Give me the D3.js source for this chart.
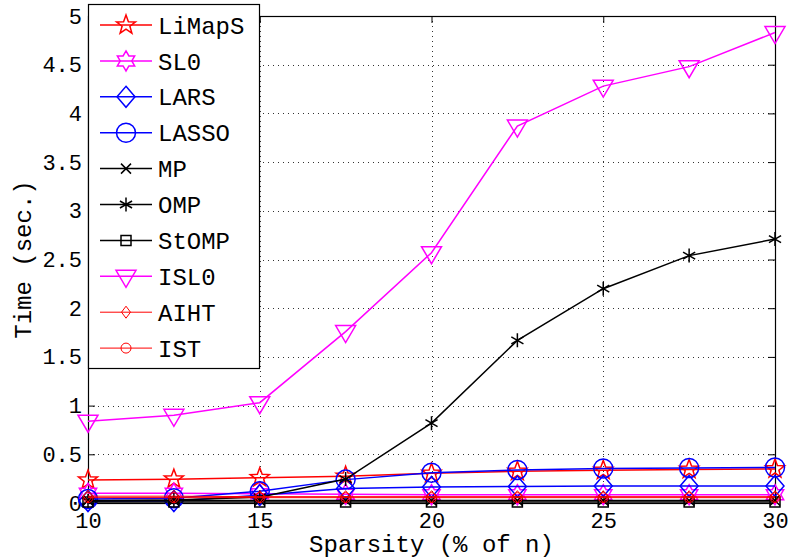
<!DOCTYPE html>
<html>
<head>
<meta charset="utf-8">
<script src="https://cdn.jsdelivr.net/npm/d3@7"></script>
<style>
  html, body { margin: 0; padding: 0; background: #fff; }
  svg { display: block; }
  text { font-family: "Liberation Mono", "DejaVu Sans Mono", monospace; fill: #000; }
</style>
</head>
<body>
<svg id="chart" width="788" height="558"></svg>
<script>
// Sparsity levels (% of n)
const sparsity = [10, 12.5, 15, 17.5, 20, 22.5, 25, 27.5, 30];

// Running time (sec.) of each solver
const limaps = [0.235, 0.245, 0.26, 0.275, 0.305, 0.325, 0.335, 0.345, 0.35];
const sl0    = [0.10, 0.10, 0.095, 0.09, 0.085, 0.085, 0.085, 0.085, 0.085];
const lars   = [0.02, 0.02, 0.08, 0.15, 0.165, 0.17, 0.175, 0.175, 0.175];
const lasso  = [0.04, 0.05, 0.12, 0.24, 0.31, 0.34, 0.355, 0.36, 0.365];
const mp     = [0.025, 0.025, 0.025, 0.025, 0.025, 0.025, 0.025, 0.025, 0.025];
const omp    = [0.02, 0.03, 0.06, 0.246, 0.82, 1.67, 2.2, 2.54, 2.71];
const stomp  = [0.01, 0.01, 0.01, 0.01, 0.01, 0.01, 0.01, 0.01, 0.01];
const isl0   = [0.84, 0.90, 1.03, 1.76, 2.57, 3.87, 4.28, 4.48, 4.83];
const aiht   = [0.07, 0.07, 0.065, 0.065, 0.065, 0.065, 0.065, 0.065, 0.065];
const ist    = [0.055, 0.055, 0.055, 0.055, 0.055, 0.055, 0.055, 0.055, 0.055];

// Axis ticks
const xTicks = [10, 15, 20, 25, 30];
const yTicks = [0, 0.5, 1, 1.5, 2, 2.5, 3, 3.5, 4, 4.5, 5];
const yTickLabels = ["0", "0.5", "1", "1.5", "2", "2.5", "3", "3.5", "4", "4.5", "5"];

// Marker outlines, centred on (0,0)
function starPath(points, rOut, rIn) {
  const pts = [];
  for (let i = 0; i < points * 2; i++) {
    const r = i % 2 === 0 ? rOut : rIn;
    const a = -Math.PI / 2 + i * Math.PI / points;
    pts.push([r * Math.cos(a), r * Math.sin(a)]);
  }
  return "M" + pts.map(p => p.join(",")).join("L") + "Z";
}
const markers = {
  pentagram: () => starPath(5, 10, 4.1),
  hexagram: () => starPath(6, 10, 5.8),
  diamond: () => "M0,-10.5L9,0L0,10.5L-9,0Z",
  circle: () => "M9.5,0A9.5,9.5 0 1,1 -9.5,0A9.5,9.5 0 1,1 9.5,0Z",
  cross: () => "M-5,-5L5,5M-5,5L5,-5",
  asterisk: () => "M0,-7L0,7M-6.06,-3.5L6.06,3.5M-6.06,3.5L6.06,-3.5",
  square: () => "M-5,-5L5,-5L5,5L-5,5Z",
  triangleDown: () => "M-10,-6L10,-6L0,11Z",
  smallDiamond: () => "M0,-6L4.5,0L0,6L-4.5,0Z",
  smallCircle: () => "M5,0A5,5 0 1,1 -5,0A5,5 0 1,1 5,0Z"
};

const series = [
  { name: "LiMapS", values: limaps, color: "#ff0000", marker: "pentagram", width: 1.5 },
  { name: "SL0",    values: sl0,    color: "#ff00ff", marker: "hexagram", width: 1.5 },
  { name: "LARS",   values: lars,   color: "#0000ff", marker: "diamond", width: 1.5 },
  { name: "LASSO",  values: lasso,  color: "#0000ff", marker: "circle", width: 1.5 },
  { name: "MP",     values: mp,     color: "#000000", marker: "cross", width: 1.5 },
  { name: "OMP",    values: omp,    color: "#000000", marker: "asterisk", width: 1.5 },
  { name: "StOMP",  values: stomp,  color: "#000000", marker: "square", width: 1.5 },
  { name: "ISL0",   values: isl0,   color: "#ff00ff", marker: "triangleDown", width: 1.5 },
  { name: "AIHT",   values: aiht,   color: "#ff0000", marker: "smallDiamond", width: 1 },
  { name: "IST",    values: ist,    color: "#ff0000", marker: "smallCircle", width: 1 }
];

const svg = d3.select("#chart");
const plot = { left: 88, right: 775, top: 16, bottom: 503 };

const x = d3.scaleLinear().domain([10, 30]).range([plot.left, plot.right]);
const y = d3.scaleLinear().domain([0, 5]).range([plot.bottom, plot.top]);

// Dotted grid
const grid = svg.append("g").attr("stroke", "#333").attr("stroke-width", 1)
  .attr("stroke-dasharray", "1,4").attr("shape-rendering", "crispEdges");
grid.selectAll("line.gx").data(xTicks.slice(1, -1)).join("line")
  .attr("x1", d => Math.round(x(d)) + 0.5).attr("x2", d => Math.round(x(d)) + 0.5)
  .attr("y1", plot.top).attr("y2", plot.bottom);
grid.selectAll("line.gy").data(yTicks.slice(1, -1)).join("line")
  .attr("x1", plot.left).attr("x2", plot.right)
  .attr("y1", d => Math.round(y(d)) + 0.5).attr("y2", d => Math.round(y(d)) + 0.5);

// Axes: inward ticks on all four sides
const tickLen = 7;
const axisBottom = d3.axisBottom(x).tickValues(xTicks).tickSize(-tickLen).tickFormat(d3.format("d")).tickPadding(9);
const axisTop = d3.axisTop(x).tickValues(xTicks).tickSize(-tickLen).tickFormat("");
const axisLeft = d3.axisLeft(y).tickValues(yTicks).tickSize(-tickLen)
  .tickFormat((d, i) => yTickLabels[i]).tickPadding(6);
const axisRight = d3.axisRight(y).tickValues(yTicks).tickSize(-tickLen).tickFormat("");

function styleAxis(g) {
  g.select(".domain").remove();
  g.selectAll(".tick line").attr("stroke", "#000").attr("stroke-width", 1);
  g.selectAll(".tick text").attr("font-size", 22).attr("font-family", "Liberation Mono, monospace").attr("fill", "#000");
}
svg.append("g").attr("transform", `translate(0,${plot.bottom})`).call(axisBottom).call(styleAxis);
svg.append("g").attr("transform", `translate(0,${plot.top})`).call(axisTop).call(styleAxis);
svg.append("g").attr("transform", `translate(${plot.left},0)`).call(axisLeft).call(styleAxis);
svg.append("g").attr("transform", `translate(${plot.right},0)`).call(axisRight).call(styleAxis);

// Box around the axes
svg.append("rect")
  .attr("x", plot.left + 0.5).attr("y", plot.top + 0.5)
  .attr("width", plot.right - plot.left).attr("height", plot.bottom - plot.top)
  .attr("fill", "none").attr("stroke", "#000").attr("stroke-width", 1.2);

// Series lines and markers
const line = d3.line().x((d, i) => x(sparsity[i])).y(d => y(d));
series.forEach(s => {
  const g = svg.append("g");
  g.append("path").attr("d", line(s.values))
    .attr("fill", "none").attr("stroke", s.color).attr("stroke-width", s.width);
  g.selectAll("path.m").data(s.values).join("path")
    .attr("class", "m")
    .attr("transform", (d, i) => `translate(${x(sparsity[i])},${y(d)})`)
    .attr("d", markers[s.marker]())
    .attr("fill", "none").attr("stroke", s.color).attr("stroke-width", s.width);
});

// Axis titles
svg.append("text").attr("x", (plot.left + plot.right) / 2).attr("y", 552)
  .attr("text-anchor", "middle").attr("font-size", 24).text("Sparsity (% of n)");
svg.append("text").attr("transform", `translate(31,${(plot.top + plot.bottom) / 2}) rotate(-90)`)
  .attr("text-anchor", "middle").attr("font-size", 24).text("Time (sec.)");

// Legend
const legend = svg.append("g");
legend.append("rect").attr("x", 88.5).attr("y", 4.5).attr("width", 171).attr("height", 364)
  .attr("fill", "#fff").attr("stroke", "#000").attr("stroke-width", 1.2);
series.forEach((s, i) => {
  const cy = 25 + i * 35.9;
  const row = legend.append("g");
  row.append("line").attr("x1", 100).attr("x2", 152).attr("y1", cy).attr("y2", cy)
    .attr("stroke", s.color).attr("stroke-width", s.width);
  row.append("path").attr("transform", `translate(126,${cy})`).attr("d", markers[s.marker]())
    .attr("fill", "none").attr("stroke", s.color).attr("stroke-width", s.width);
  row.append("text").attr("x", 158).attr("y", cy).attr("dy", "0.36em")
    .attr("font-size", 24).text(s.name);
});
</script>
</body>
</html>
